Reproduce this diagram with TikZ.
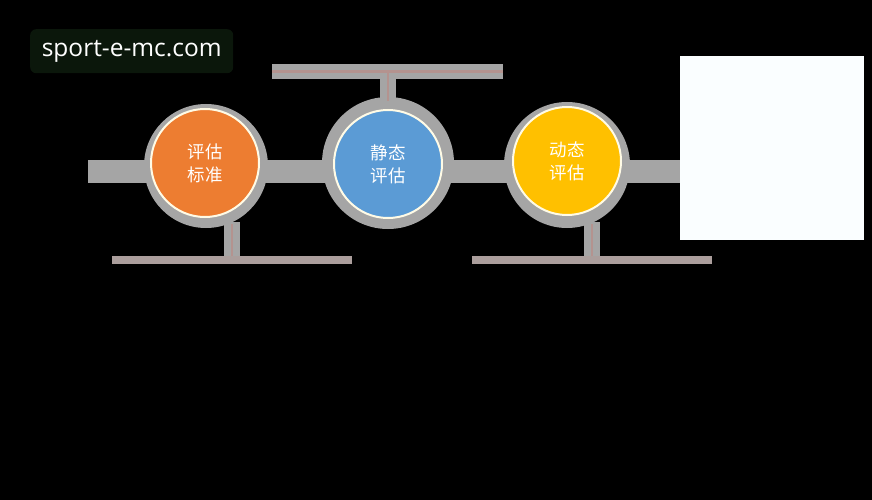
\documentclass[tikz,border=0pt]{standalone}
\usepackage{fontspec}
\newfontfamily\cjk{Noto Sans CJK SC}
\newfontfamily\wmfont{Open Sans}
\definecolor{ringgray}{HTML}{A5A5A5}
\definecolor{rosy}{HTML}{B4938F}
\definecolor{cOrange}{HTML}{ED7D31}
\definecolor{cBlue}{HTML}{5B9BD5}
\definecolor{cYellow}{HTML}{FFC000}
\definecolor{cream}{HTML}{FFFBE6}
\definecolor{boxwhite}{HTML}{FAFEFF}
\definecolor{wmbg}{HTML}{0B170B}
\begin{document}
\begin{tikzpicture}[x=1pt,y=-1pt,
  ring/.style={circle,fill=ringgray,draw=none,minimum size=#1,inner sep=0pt},
  stage/.style={circle,draw=cream,line width=2pt,fill=#1,minimum size=108pt,inner sep=0pt,
    text=white,font=\cjk\fontsize{17.5}{23}\selectfont,align=center},
  stem/.style={ringgray,line width=16pt},
  stemline/.style={rosy,line width=2.5pt},
  crossbar/.style={ringgray!60!rosy,line width=8pt}]
\fill[black] (0,0) rectangle (872,500);
\useasboundingbox (0,0) rectangle (872,500);
% main gray bar
\coordinate (barL) at (88,171.5);
\coordinate (barR) at (682,171.5);
\draw[ringgray,line width=23pt] (barL) -- (barR);
% rings
\node[ring=124pt] (r1) at (206,166) {};
\node[ring=132pt] (r2) at (388,163) {};
\node[ring=126pt] (r3) at (567,165) {};
% connectors
\coordinate (t1) at (388,71.5);
\coordinate (tL) at (272,71.5);
\coordinate (tR) at (503,71.5);
\draw[ringgray,line width=15pt] (tL) -- (tR);
\draw[stem] ([yshift=-6pt]r2.north) -- (t1);
\draw[stemline] ([yshift=-4pt]r2.north) -- (t1);
\draw[rosy,line width=3pt] (tL) -- (tR);
\coordinate (b1) at (232,260);
\coordinate (b1L) at (112,260);
\coordinate (b1R) at (352,260);
\draw[stem] ([yshift=6pt]r1.south -| b1) -- (b1);
\draw[stemline] ([yshift=4pt]r1.south -| b1) -- (b1);
\draw[crossbar] (b1L) -- (b1R);
\coordinate (b3) at (592,260);
\coordinate (b3L) at (472,260);
\coordinate (b3R) at (712,260);
\draw[stem] ([yshift=6pt]r3.south -| b3) -- (b3);
\draw[stemline] ([yshift=4pt]r3.south -| b3) -- (b3);
\draw[crossbar] (b3L) -- (b3R);
% stages
\node[stage=cOrange] (s1) at (205,163) {评估\\标准};
\node[stage=cBlue] (s2) at (388,164) {静态\\评估};
\node[stage=cYellow] (s3) at (567,161) {动态\\评估};
% white box
\node[fill=boxwhite,minimum width=184pt,minimum height=184pt,inner sep=0pt,anchor=north west] (wbox) at (680,56) {};
% watermark
\node[fill=wmbg,rounded corners=6pt,minimum width=203pt,minimum height=44pt,inner sep=0pt,
  text=white,font=\wmfont\fontsize{24.5}{28}\selectfont,anchor=north west] (wm) at (30,29) {sport-e-mc.com};
\end{tikzpicture}
\end{document}
